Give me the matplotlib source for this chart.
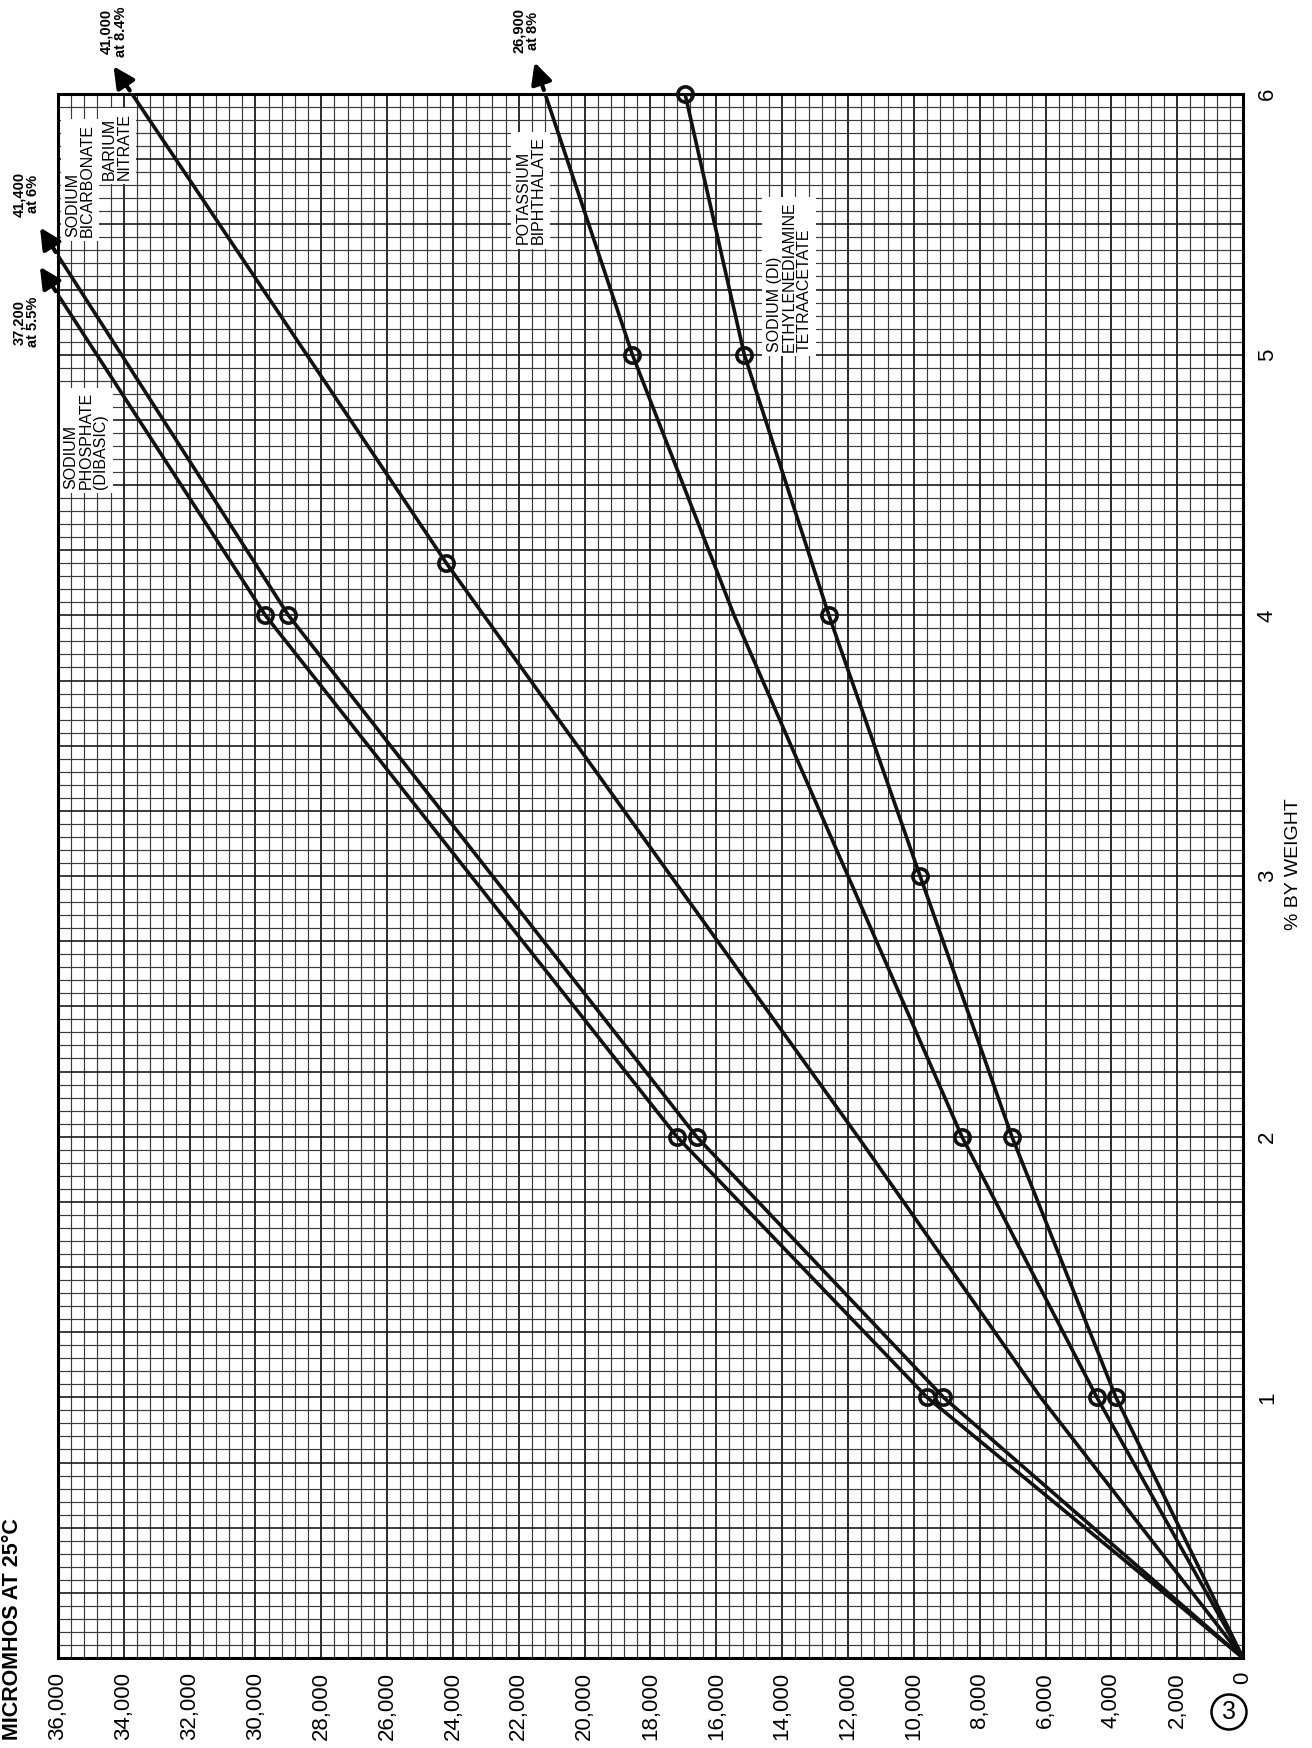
import numpy as np
import matplotlib
matplotlib.use("Agg")
import matplotlib.pyplot as plt
from matplotlib.transforms import offset_copy

plt.rcParams["font.family"] = ["Liberation Sans", "DejaVu Sans"]

# ── data (weight %, micromhos at 25 C) ────────────────────────────────────────
PHOS_W = [0, 1, 2, 4, 5.23]
PHOS_M = [0, 9600, 17200, 29700, 36000]
PHOS_MARK = [1, 2, 4]

BICARB_W = [0, 1, 2, 4, 5.38]
BICARB_M = [0, 9100, 16600, 29000, 36000]
BICARB_MARK = [1, 2, 4]

BARIUM_W = [0, 1, 2, 4.2, 6]
BARIUM_M = [0, 6150, 11700, 24200, 33750]
BARIUM_MARK = [4.2]

POTASS_W = [0, 1, 2, 4, 5, 6]
POTASS_M = [0, 4440, 8540, 15460, 18550, 21200]
POTASS_MARK = [1, 2, 5]

EDTA_W = [0, 1, 2, 3, 4, 5, 6]
EDTA_M = [0, 3860, 7020, 9810, 12580, 15150, 16950]
EDTA_MARK = [1, 2, 3, 4, 5, 6]

MHOS_TICKS = list(range(0, 36001, 2000))
WEIGHT_TICKS = [1, 2, 3, 4, 5, 6]

# off-chart values noted at the arrow heads
ARROW_NOTES = {
    "phos":   "37,200\nat 5.5%",
    "bicarb": "41,400\nat 6%",
    "barium": "41,000\nat 8.4%",
    "potass": "26,900\nat 8%",
}

# ── figure ────────────────────────────────────────────────────────────────────
W_PX, H_PX = 1312, 1748
fig = plt.figure(figsize=(W_PX / 100, H_PX / 100), dpi=100)
fig.patch.set_facecolor("white")
ax = fig.add_axes([58 / W_PX, 1 - 1658 / H_PX, 1185 / W_PX, 1564 / H_PX])

# chart is printed turned sideways: micromhos run right-to-left, weight upward
ax.set_xlim(36000, 0)
ax.set_ylim(0, 6)

# graph-paper grid
for m in np.arange(0, 36001, 400):
    heavy = (m % 2000 == 0)
    ax.axvline(m, color="#1a1a1a" if heavy else "#3a3a3a",
               lw=1.3 if heavy else 0.85, zorder=0)
for w in np.arange(0, 6.001, 0.05):
    heavy = abs(w * 4 - round(w * 4)) < 1e-6
    ax.axhline(w, color="#1a1a1a" if heavy else "#3a3a3a",
               lw=1.2 if heavy else 0.85, zorder=0)

for sp in ax.spines.values():
    sp.set_linewidth(2.2)
    sp.set_color("black")

ax.set_xticks(MHOS_TICKS)
ax.set_xticklabels([f"{v:,}" for v in MHOS_TICKS], rotation=90, fontsize=16)
ax.yaxis.tick_right()
ax.set_yticks(WEIGHT_TICKS)
ax.set_yticklabels([str(v) for v in WEIGHT_TICKS], rotation=90, fontsize=16,
                   va="center")
ax.tick_params(axis="both", length=0, pad=10)

# ── curves ────────────────────────────────────────────────────────────────────
series = {
    "phos":   (PHOS_W, PHOS_M, PHOS_MARK),
    "bicarb": (BICARB_W, BICARB_M, BICARB_MARK),
    "barium": (BARIUM_W, BARIUM_M, BARIUM_MARK),
    "potass": (POTASS_W, POTASS_M, POTASS_MARK),
    "edta":   (EDTA_W, EDTA_M, EDTA_MARK),
}
for key, (ws, ms, marks) in series.items():
    ax.plot(ms, ws, color="#111111", lw=2.6, zorder=3, clip_on=False,
            solid_capstyle="butt")
    mw = [w for w in ws if w in marks]
    mm = [m for w, m in zip(ws, ms) if w in marks]
    ax.plot(mm, mw, ls="none", marker="o", ms=11, mfc="none", mec="#111111",
            mew=2.6, zorder=4, clip_on=False)

# ── curve labels in white boxes ───────────────────────────────────────────────
box = dict(facecolor="white", edgecolor="none", pad=3)
labels = [
    ("SODIUM\nBICARBONATE", 35330, 5.67),
    ("BARIUM\nNITRATE", 34200, 5.80),
    ("SODIUM\nPHOSPHATE\n(DIBASIC)", 35150, 4.67),
    ("POTASSIUM\nBIPHTHALATE", 21650, 5.63),
    ("SODIUM (DI)\nETHYLENEDIAMINE\nTETRAACETATE", 13790, 5.30),
]
for txt, m, w in labels:
    ax.text(m, w, txt, rotation=90, ha="center", va="center",
            multialignment="left", fontsize=11.5, linespacing=1.0,
            bbox=box, zorder=2)

# ── arrows continuing the curves off the chart ────────────────────────────────
fig.canvas.draw()
note_offsets = {           # text centre relative to arrow tip, points
    "phos":   (-10, -40),
    "bicarb": (-10, 24),
    "barium": (0, 25),
    "potass": (-6, 23),
}
for key, note in ARROW_NOTES.items():
    ws, ms, _ = series[key]
    p0 = ax.transData.transform((ms[-2], ws[-2]))
    p1 = ax.transData.transform((ms[-1], ws[-1]))
    u = (p1 - p0) / np.hypot(*(p1 - p0))
    tail = offset_copy(ax.transData, fig=fig, x=u[0] * 3, y=u[1] * 3, units="points")
    tip = offset_copy(ax.transData, fig=fig, x=u[0] * 24, y=u[1] * 24, units="points")
    ax.annotate("", xy=(ms[-1], ws[-1]), xycoords=tip,
                xytext=(ms[-1], ws[-1]), textcoords=tail,
                arrowprops=dict(arrowstyle="-|>,head_length=0.9,head_width=0.45",
                                color="black", lw=3, mutation_scale=14,
                                shrinkA=0, shrinkB=0),
                annotation_clip=False)
    dx, dy = note_offsets[key]
    ntr = offset_copy(ax.transData, fig=fig, x=u[0] * 24 + dx, y=u[1] * 24 + dy,
                      units="points")
    ax.text(ms[-1], ws[-1], note, transform=ntr, rotation=90, ha="center",
            va="center", multialignment="center", fontsize=10.5,
            fontweight="bold", linespacing=1.0, clip_on=False)

# ── axis titles and figure number ─────────────────────────────────────────────
fig.text(13 / W_PX, 8 / H_PX, "MICROMHOS AT 25°C", rotation=90, ha="center",
         va="bottom", fontsize=15.5, fontweight="bold")
fig.text(1293 / W_PX, 1 - 864 / H_PX, "% BY WEIGHT", rotation=90, ha="center",
         va="center", fontsize=14)
fig.text(1229 / W_PX, 1 - 1712 / H_PX, "3", ha="center", va="center",
         fontsize=18,
         bbox=dict(boxstyle="circle,pad=0.22", facecolor="white",
                   edgecolor="black", lw=1.8))

fig.savefig("out.png", dpi=100, facecolor="white")
